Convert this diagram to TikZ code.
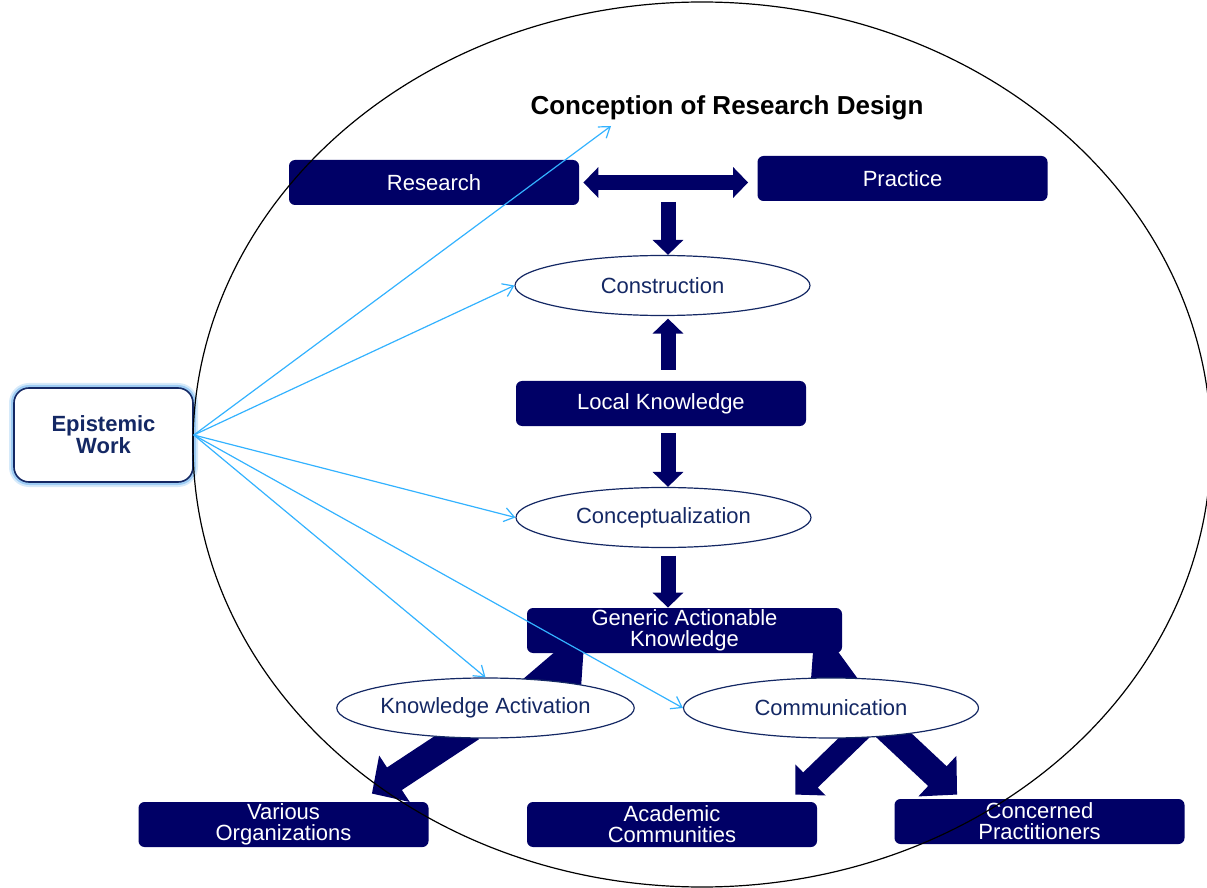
\documentclass[tikz,border=0pt]{standalone}
\usepackage{fontspec}
\setmainfont{Liberation Sans}
\usetikzlibrary{shapes.geometric,arrows.meta,backgrounds}

\definecolor{boxblue}{RGB}{0,0,102}
\definecolor{inkblue}{RGB}{20,40,100}
\definecolor{linkblue}{RGB}{51,178,255}
\definecolor{glow}{RGB}{120,185,240}

\tikzset{
  darkbox/.style={fill=boxblue, rounded corners=3pt, text=white, align=center,
    minimum width=145pt, minimum height=22.5pt, inner sep=0pt,
    font=\fontsize{11}{10.5}\selectfont},
  oval/.style={ellipse, draw=inkblue, line width=0.6pt, fill=white, text=inkblue,
    minimum width=147.5pt, minimum height=30pt, inner sep=0pt,
    font=\fontsize{11}{13}\selectfont},
  glowbox/.style={rounded corners=7.5pt, draw=inkblue, line width=0.8pt, fill=white,
    text=inkblue, align=center, minimum width=89.5pt, minimum height=47pt, inner sep=0pt,
    font=\bfseries\fontsize{11}{11}\selectfont,
    preaction={draw=glow, line width=5pt, opacity=0.3},
    preaction={draw=glow, line width=3pt, opacity=0.6}},
  fat/.style={line width=#1, draw=boxblue, -{Triangle[width=0pt 2, length=0pt 1]}},
  fatboth/.style={line width=#1, draw=boxblue,
    {Triangle[width=0pt 2, length=0pt 1]}-{Triangle[width=0pt 2, length=0pt 1]}},
  link/.style={draw=linkblue, line width=0.6pt, -{Straight Barb[length=5pt, width=7pt]}}
}

\begin{document}
\begin{tikzpicture}[x=0.5pt, y=-0.5pt]
  \useasboundingbox (0,0) rectangle (1207,888);
  % title
  \node[font=\bfseries\fontsize{13}{15}\selectfont] (title) at (727,108) {Conception of Research Design};
  % dark boxes
  \node[darkbox] (research) at (434,182.5) {Research};
  \node[darkbox] (practice) at (902.5,178.5) {Practice};
  \node[darkbox] (local) at (661,403.5) {Local Knowledge};
  \node[darkbox, minimum width=157.5pt] (generic) at (684.5,630.5) {Generic Actionable\\Knowledge};
  \node[darkbox] (various) at (283.5,824.5) {Various\\Organizations};
  \node[darkbox] (academic) at (672,824.5) {Academic\\Communities};
  \node[darkbox] (concerned) at (1039.5,821.5) {Concerned\\Practitioners};
  % ellipses
  \node[oval] (construction) at (662.5,285.5) {Construction};
  \node[oval] (concept) at (663.5,517.5) {Conceptualization};
  \node[oval] (activation) at (485.5,708) {Knowledge Activation};
  \node[oval] (communication) at (831,708) {Communication};
  % epistemic work
  \node[glowbox] (epistemic) at (103.5,435) {Epistemic\\Work};
  % block arrows
  \coordinate (spine) at (668,0);
  \coordinate (meet) at (668,202);
  \begin{pgfonlayer}{background}
    \draw[fatboth=7.5pt, shorten <=2pt, shorten >=4.5pt] (research.east) -- (research.east -| practice.west);
    \draw[fat=7.5pt] (meet) -- (construction.north -| meet);
    \draw[fat=7.5pt, shorten <=5.5pt, shorten >=1.25pt] (local.north -| spine) -- (construction.south -| spine);
    \draw[fat=7.5pt, shorten <=3.5pt] (local.south -| spine) -- (concept.north -| spine);
    \draw[fat=7.5pt, shorten <=3.75pt] (concept.south -| spine) -- (generic.north -| spine);
    \draw[fat=10pt, -{Triangle[width=0pt 2.85, length=0pt 4]}]
      ([shift={(26.25pt,-21.25pt)}]activation.north) -- ([shift={(-48.75pt,15.5pt)}]generic.south);
    \draw[fat=10pt, -{Triangle[width=0pt 2.15, length=0pt 3.75]}]
      ([shift={(6.2pt,-20.6pt)}]communication.north) -- ([shift={(-14.5pt,19.75pt)}]generic.south east);
    \draw[fat=13.5pt] ([shift={(-7pt,-10pt)}]activation.center) -- ([shift={(-28.5pt,4pt)}]various.north east);
    \draw[fat=10.5pt] ([shift={(15.5pt,-11pt)}]communication.center) -- ([shift={(-11pt,3.5pt)}]academic.north east);
    \draw[fat=13.5pt] ([shift={(27pt,-9.5pt)}]communication.center) -- ([shift={(31.5pt,2pt)}]concerned.north west);
  \end{pgfonlayer}
  % outer ellipse
  \draw[line width=0.6pt] (702,444.5) ellipse [x radius=254.5pt, y radius=221.25pt];
  % epistemic links
  \coordinate (titlefoot) at (611,126);
  \draw[link] (epistemic.east) -- (titlefoot);
  \draw[link] (epistemic.east) -- (construction.west);
  \draw[link] (epistemic.east) -- (concept.west);
  \draw[link] (epistemic.east) -- (activation.north);
  \draw[link] (epistemic.east) -- (communication.west);
\end{tikzpicture}
\end{document}
